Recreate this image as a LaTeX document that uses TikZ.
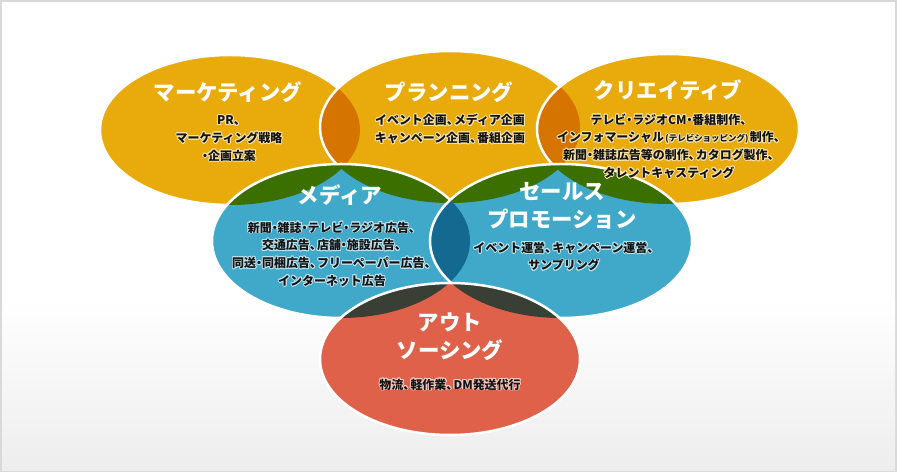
\documentclass[tikz,border=0pt]{standalone}
\usepackage{fontspec}
\usepackage[copies]{contour}
\newfontfamily\jp{Noto Sans CJK JP}
\definecolor{yel}{HTML}{E9AB0B}
\definecolor{lensO}{HTML}{D67400}
\definecolor{grn}{HTML}{3B6F00}
\definecolor{blu}{HTML}{40A8C8}
\definecolor{dblu}{HTML}{13698F}
\definecolor{redov}{HTML}{E0614A}
\definecolor{dgry}{HTML}{3A3F35}
\definecolor{frame}{HTML}{D9D9D9}
\definecolor{bgbot}{HTML}{EDEDED}
\definecolor{txt}{HTML}{141414}
\colorlet{hy}{yel!35!white}
\colorlet{hb}{blu!35!white}
\colorlet{hr}{redov!35!white}
\contourlength{0.9pt}
\newcommand\hl[2]{\contour{#1}{#2}}
\newcommand\tcm{\makebox[0.6em][l]{、}}
\newcommand\mdt{\makebox[0.5em][c]{・}}
\tikzset{
  eMk/.style={insert path={(230,130) ellipse [x radius=130bp, y radius=75bp]}},
  ePl/.style={insert path={(450,127) ellipse [x radius=130bp, y radius=76bp]}},
  eCr/.style={insert path={(668,129) ellipse [x radius=131bp, y radius=75bp]}},
  eMd/.style={insert path={(341,241) ellipse [x radius=129bp, y radius=77bp]}},
  eSp/.style={insert path={(561,241) ellipse [x radius=131bp, y radius=77bp]}},
  eOu/.style={insert path={(450,359) ellipse [x radius=130bp, y radius=76bp]}},
  rim/.style={draw=white, line width=2.5bp},
  ttl/.style={text=white, align=center, inner sep=0pt,
    font=\jp\bfseries\fontsize{21.5}{28}\selectfont},
  desc/.style={text=txt, align=center, inner sep=0pt,
    font=\jp\bfseries\fontsize{12}{17.8}\selectfont},
}
\begin{document}
\begin{tikzpicture}[x=1bp,y=-1bp]
\useasboundingbox (0,0) rectangle (897,472);
% background and frame
\fill[frame] (0,0) rectangle (897,472);
\fill[white] (2,2) rectangle (895,470);
\shade[top color=white, bottom color=bgbot] (2,300) rectangle (895,470);
% top row
\fill[yel, eMk];
\draw[rim, eMk];
\fill[yel, ePl];
\begin{scope}\clip[ePl]; \fill[lensO, eMk];\end{scope}
\draw[rim, ePl];
\fill[yel, eCr];
\begin{scope}\clip[eCr]; \fill[lensO, ePl];\end{scope}
\draw[rim, eCr];
% middle row
\fill[blu, eMd];
\begin{scope}\clip[eMd]; \fill[grn, eMk]; \fill[grn, ePl];\end{scope}
\draw[rim, eMd];
\fill[blu, eSp];
\begin{scope}\clip[eSp]; \fill[grn, ePl]; \fill[grn, eCr]; \fill[dblu, eMd];\end{scope}
\draw[rim, eSp];
% bottom
\fill[redov, eOu];
\begin{scope}\clip[eOu]; \fill[dgry, eMd]; \fill[dgry, eSp];\end{scope}
\draw[rim, eOu];
% texts
\node[ttl] (mkT) at (228,92) {マーケティング};
\node[desc] (mkD) at (229,139) {\hl{hy}{PR\tcm}\\\hl{hy}{マーケティング戦略}\\\hl{hy}{\mdt 企画立案}};
\node[ttl] (plT) at (449,92) {プランニング};
\node[desc] (plD) at (450,129.5) {\hl{hy}{イベント企画\tcm メディア企画}\\\hl{hy}{キャンペーン企画\tcm 番組企画}};
\node[ttl] (crT) at (668,90) {クリエイティブ};
\node[desc] (crD) at (669,146.5) {\hl{hy}{テレビ\mdt ラジオCM\mdt 番組制作\tcm}\\\hl{hy}{インフォマーシャル{\fontsize{8.5}{8.5}\selectfont\,(テレビショッピング)\,}制作\tcm}\\\hl{hy}{新聞\mdt 雑誌広告等の制作\tcm カタログ製作\tcm}\\\hl{hy}{タレントキャスティング}};
\node[ttl] (mdT) at (340,195) {メディア};
\node[desc] (mdD) at (332,254.5) {\hl{hb}{新聞\mdt 雑誌\mdt テレビ\mdt ラジオ広告\tcm}\\\hl{hb}{交通広告\tcm 店舗\mdt 施設広告\tcm}\\\hl{hb}{同送\mdt 同梱広告\tcm フリーペーパー広告\tcm}\\\hl{hb}{インターネット広告}};
\node[ttl] (spT) at (562,206) {セールス\\プロモーション};
\node[desc] (spD) at (564,257) {\hl{hb}{イベント運営\tcm キャンペーン運営\tcm}\\\hl{hb}{サンプリング}};
\node[ttl] (ouT) at (450,337) {アウト\\ソーシング};
\node[desc] (ouD) at (450,385) {\hl{hr}{物流\tcm 軽作業\tcm DM発送代行}};
\end{tikzpicture}
\end{document}
